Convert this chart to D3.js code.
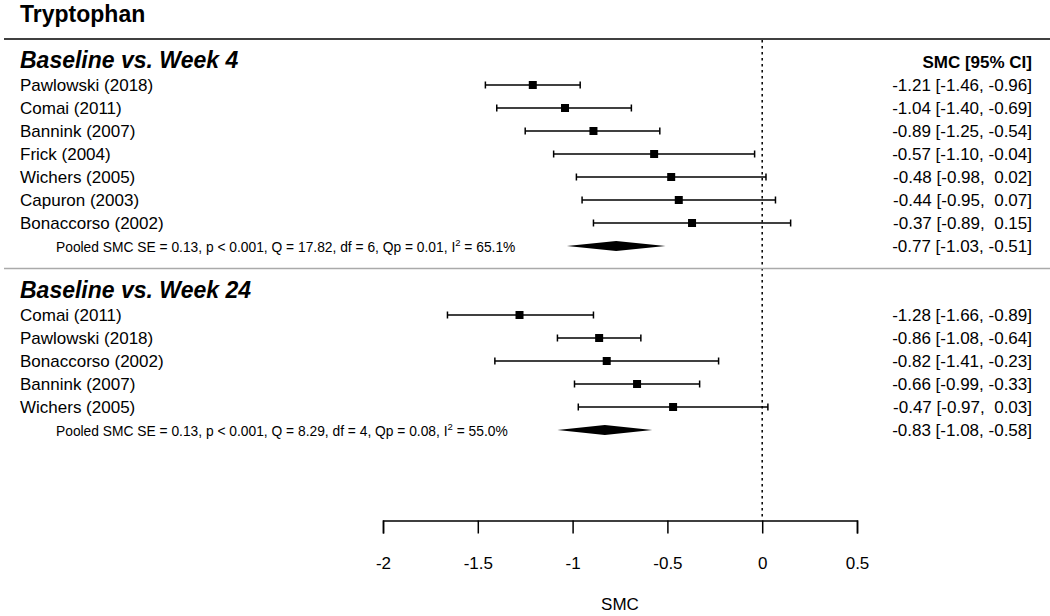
<!DOCTYPE html>
<html><head><meta charset="utf-8">
<script src="https://cdn.jsdelivr.net/npm/d3@7"></script>
<style>
body{margin:0;background:#fff;}
svg text{font-family:"Liberation Sans",Arial,sans-serif;white-space:pre;}
</style></head>
<body><svg id="c" width="1050" height="616"></svg>
<script>
const title = "Tryptophan";
const groupTitles = ["Baseline vs. Week 4", "Baseline vs. Week 24"];
const studies4 = ["Pawlowski (2018)","Comai (2011)","Bannink (2007)","Frick (2004)","Wichers (2005)","Capuron (2003)","Bonaccorso (2002)"];
const est4 = [-1.21,-1.04,-0.89,-0.57,-0.48,-0.44,-0.37];
const lo4  = [-1.46,-1.40,-1.25,-1.10,-0.98,-0.95,-0.89];
const hi4  = [-0.96,-0.69,-0.54,-0.04, 0.02, 0.07, 0.15];
const pooled4 = {est:-0.77, lo:-1.03, hi:-0.51};
const pooledText4 = ["Pooled SMC SE = 0.13, p < 0.001, Q = 17.82, df = 6, Qp = 0.01, I", "2", " = 65.1%"];
const studies24 = ["Comai (2011)","Pawlowski (2018)","Bonaccorso (2002)","Bannink (2007)","Wichers (2005)"];
const est24 = [-1.28,-0.86,-0.82,-0.66,-0.47];
const lo24  = [-1.66,-1.08,-1.41,-0.99,-0.97];
const hi24  = [-0.89,-0.64,-0.23,-0.33, 0.03];
const pooled24 = {est:-0.83, lo:-1.08, hi:-0.58};
const pooledText24 = ["Pooled SMC SE = 0.13, p < 0.001, Q = 8.29, df = 4, Qp = 0.08, I", "2", " = 55.0%"];
const xTicks = [-2,-1.5,-1,-0.5,0,0.5];
const xTickLabels = ["-2","-1.5","-1","-0.5","0","0.5"];
const ciHeader = "SMC [95% CI]";
const xTitle = "SMC";

const svg = d3.select("#c");
const x = d3.scaleLinear().domain([-2,0.5]).range([383,857]);
const y = d3.scaleLinear().domain([0,1]).range([62,85]); // row index -> y

function fmtCI(e,l,h){
  const hs = h<0 ? "-"+Math.abs(h).toFixed(2) : " "+h.toFixed(2);
  return `${e<0?"-":""}${Math.abs(e).toFixed(2)} [${l<0?"-":""}${Math.abs(l).toFixed(2)}, ${hs}]`;
}

// title
svg.append("text").attr("x",20).attr("y",22).attr("font-size",23).attr("font-weight","bold").text(title);
svg.append("line").attr("x1",4).attr("x2",1050).attr("y1",39).attr("y2",39).attr("stroke","#000").attr("stroke-width",1.5);

// zero line
svg.append("line").attr("x1",x(0)).attr("x2",x(0)).attr("y1",40).attr("y2",520)
  .attr("stroke","#000").attr("stroke-width",1.5).attr("stroke-dasharray","2.5,3.5");

function drawGroup(startRow, gTitle, studies, est, lo, hi, pooled, ptxt){
  svg.append("text").attr("x",20).attr("y",y(startRow)+6).attr("font-size",23)
    .attr("font-weight","bold").attr("font-style","italic").text(gTitle);
  studies.forEach((s,i)=>{
    const yy = y(startRow+1+i);
    svg.append("text").attr("x",20).attr("y",yy+6).attr("font-size",17).text(s);
    const g = svg.append("g").attr("stroke","#000").attr("stroke-width",1.5);
    g.append("line").attr("x1",x(lo[i])).attr("x2",x(hi[i])).attr("y1",yy).attr("y2",yy);
    g.append("line").attr("x1",x(lo[i])).attr("x2",x(lo[i])).attr("y1",yy-3.5).attr("y2",yy+3.5);
    g.append("line").attr("x1",x(hi[i])).attr("x2",x(hi[i])).attr("y1",yy-3.5).attr("y2",yy+3.5);
    svg.append("rect").attr("x",x(est[i])-4).attr("y",yy-4).attr("width",8).attr("height",8).attr("fill","#000");
    svg.append("text").attr("x",1032).attr("y",yy+6).attr("font-size",17).attr("text-anchor","end")
      .text(fmtCI(est[i],lo[i],hi[i]));
  });
  const py = y(startRow+1+studies.length);
  const t = svg.append("text").attr("x",56).attr("y",py+6).attr("font-size",13.8);
  t.append("tspan").text(ptxt[0]);
  t.append("tspan").attr("dy",-6).attr("font-size",9.5).text(ptxt[1]);
  t.append("tspan").attr("dy",6).text(ptxt[2]);
  const d = [[x(pooled.lo),py],[x(pooled.est),py-5],[x(pooled.hi),py],[x(pooled.est),py+5]];
  svg.append("path").attr("d",d3.line()(d)+"Z").attr("fill","#000");
  svg.append("text").attr("x",1032).attr("y",py+6).attr("font-size",17).attr("text-anchor","end")
    .text(fmtCI(pooled.est,pooled.lo,pooled.hi));
}

svg.append("text").attr("x",1032).attr("y",y(0)+6).attr("font-size",17).attr("font-weight","bold")
  .attr("text-anchor","end").text(ciHeader);

drawGroup(0, groupTitles[0], studies4, est4, lo4, hi4, pooled4, pooledText4);
svg.append("line").attr("x1",4).attr("x2",1050).attr("y1",y(9)-0.5).attr("y2",y(9)-0.5).attr("stroke","#aaa").attr("stroke-width",1.5);
drawGroup(10, groupTitles[1], studies24, est24, lo24, hi24, pooled24, pooledText24);

// axis
const ax = svg.append("g").attr("transform","translate(0,520.5)")
  .call(d3.axisBottom(x).tickValues(xTicks).tickFormat((d,i)=>xTickLabels[i]).tickSize(13).tickPadding(23));
ax.select(".domain").attr("stroke","#000").attr("stroke-width",1.5);
ax.selectAll(".tick line").attr("stroke","#000").attr("stroke-width",1.5);
ax.selectAll(".tick text").attr("font-size",17).attr("font-family","Liberation Sans, Arial, sans-serif").attr("fill","#000");
svg.append("text").attr("x",x(-0.75)).attr("y",610).attr("font-size",17).attr("text-anchor","middle").text(xTitle);
</script></body></html>
